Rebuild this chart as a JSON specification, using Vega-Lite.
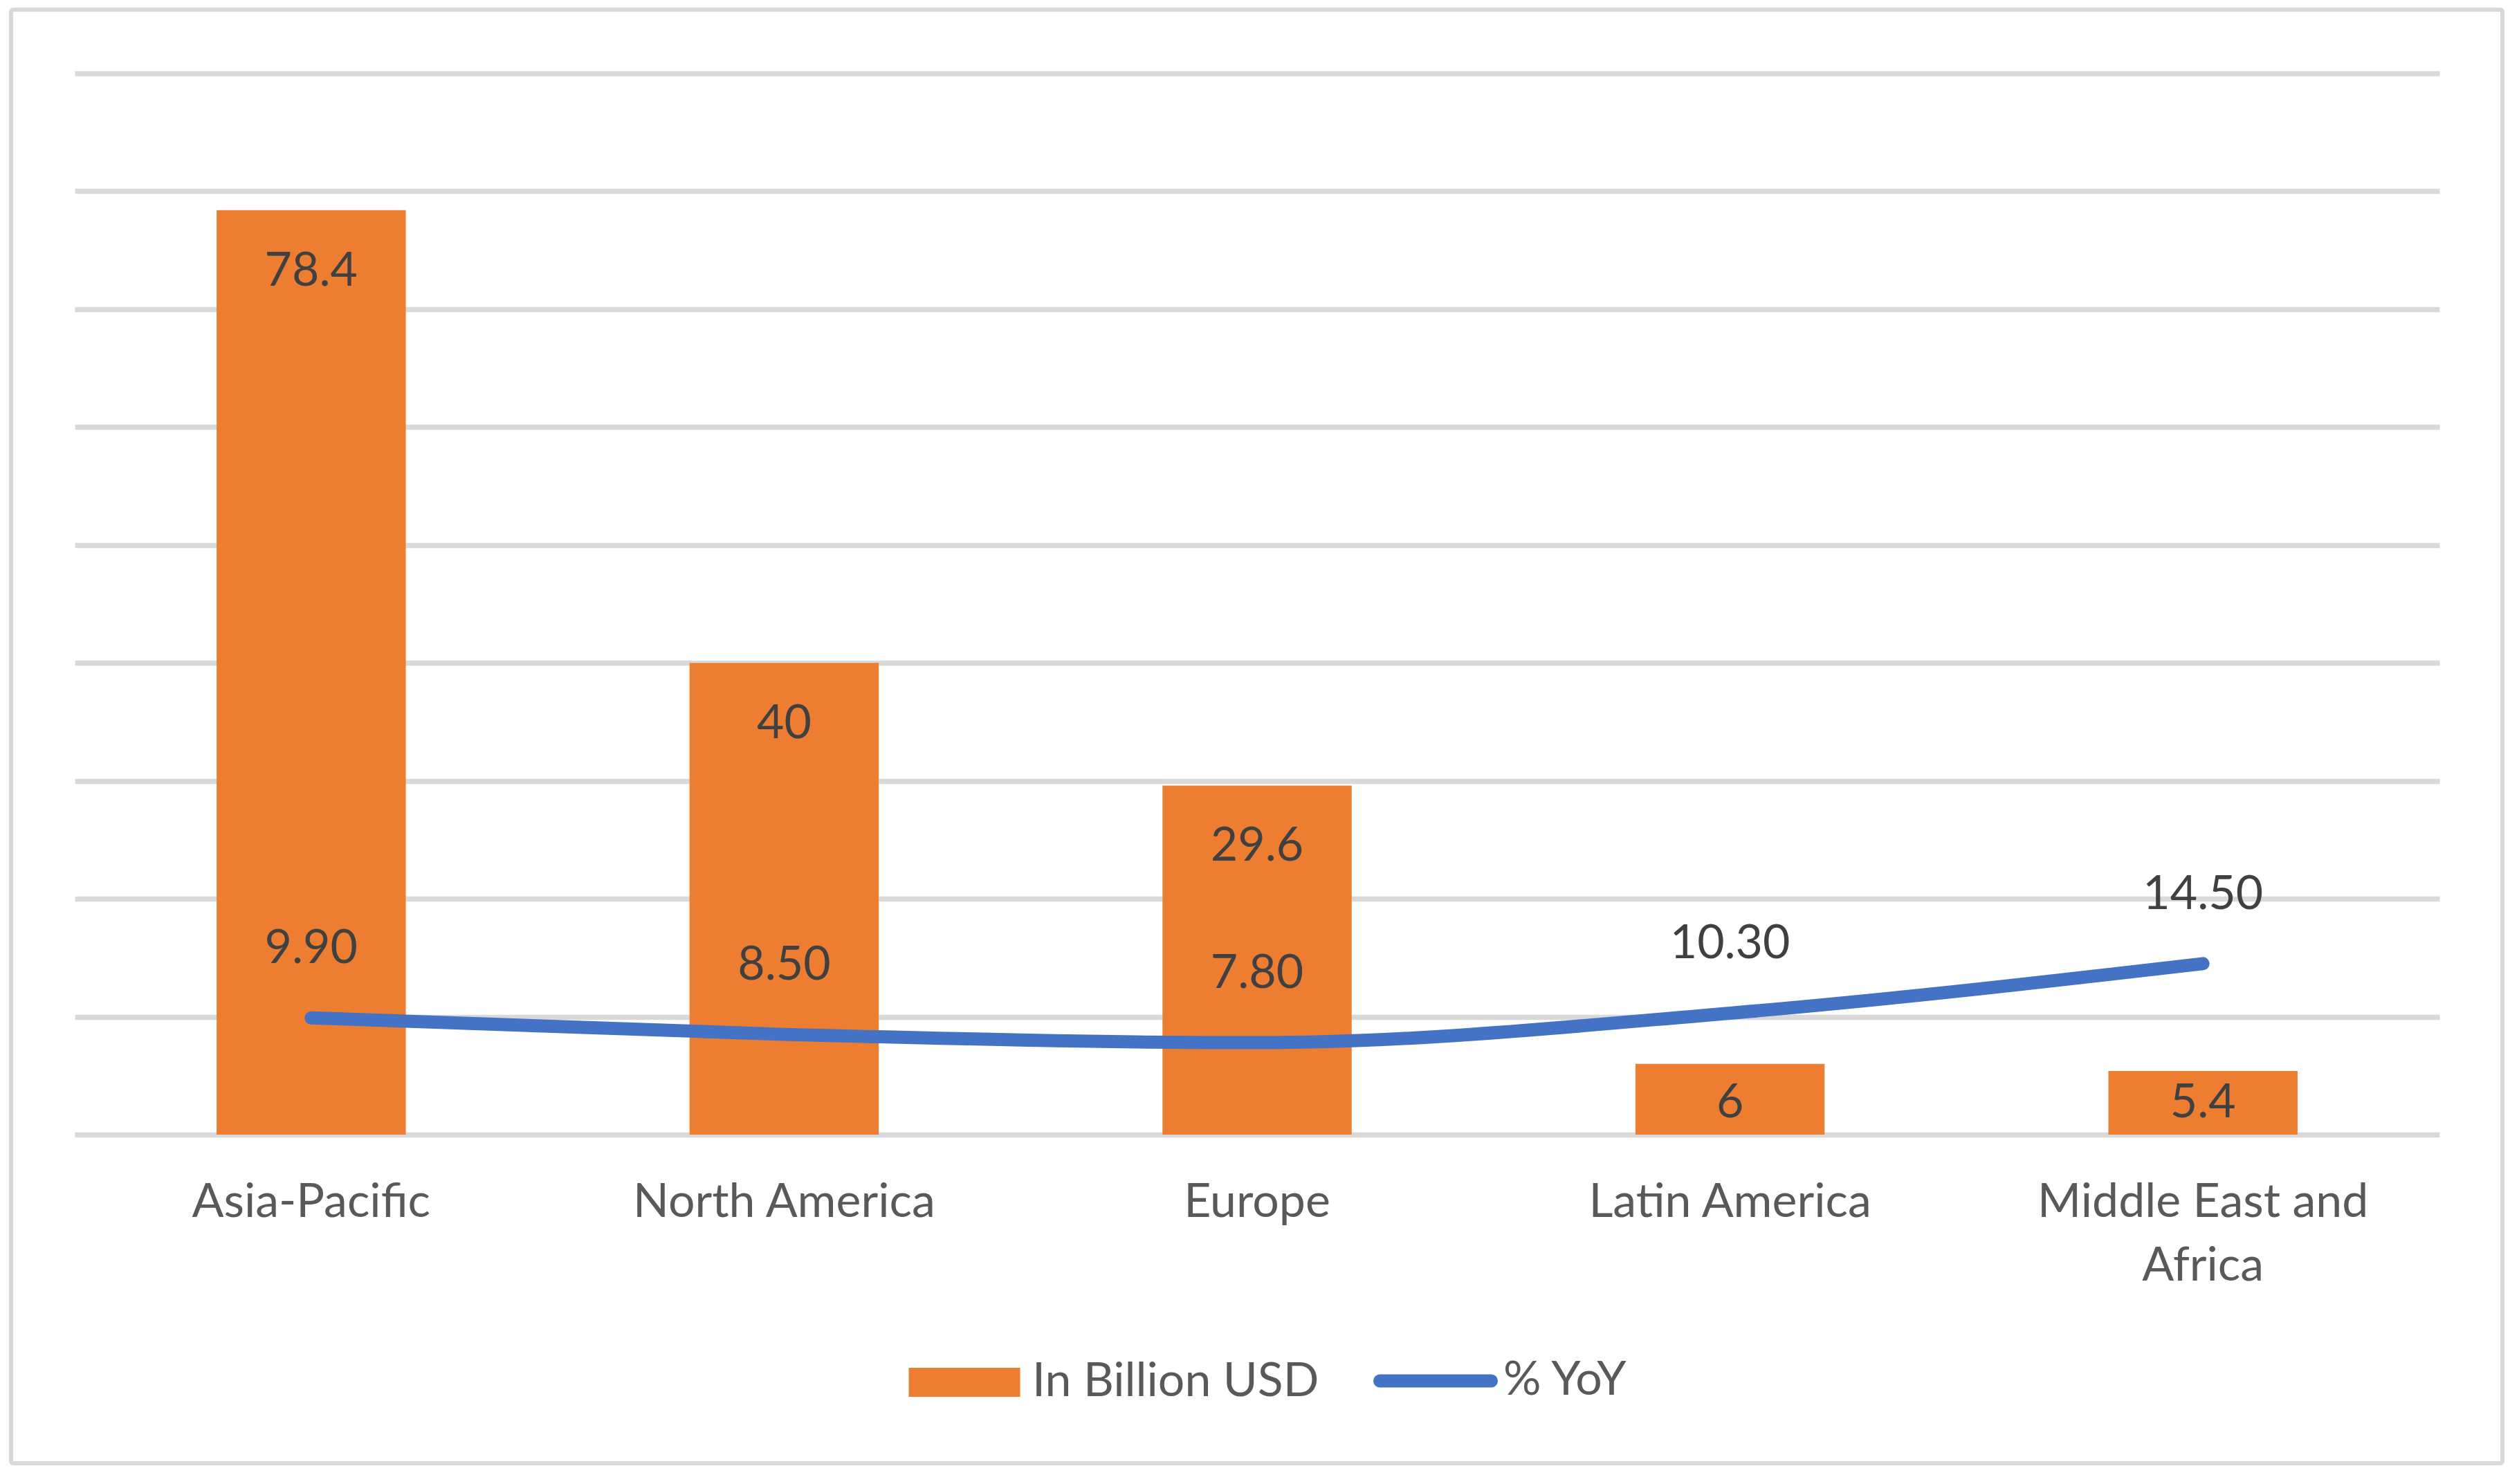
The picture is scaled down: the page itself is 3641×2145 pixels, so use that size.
{
  "$schema": "https://vega.github.io/schema/vega-lite/v6.json",
  "width": 3601,
  "height": 2101,
  "padding": {"left": 16, "top": 14, "right": 24, "bottom": 30},
  "autosize": {"type": "none"},
  "background": "white",
  "config": {
    "view": {"stroke": "#D9D9D9", "strokeWidth": 6, "cornerRadius": 3},
    "font": "Lato"
  },
  "data": {
    "values": [
      {"region": "Asia-Pacific", "usd": 78.4, "yoy": 9.9},
      {"region": "North America", "usd": 40, "yoy": 8.5},
      {"region": "Europe", "usd": 29.6, "yoy": 7.8},
      {"region": "Latin America", "usd": 6, "yoy": 10.3},
      {"region": "Middle East and Africa", "usd": 5.4, "yoy": 14.5}
    ]
  },
  "encoding": {
    "x": {
      "field": "region",
      "type": "nominal",
      "sort": null,
      "scale": {"range": [92, 3510], "paddingInner": 0.6, "paddingOuter": 0.3},
      "axis": {
        "title": null,
        "domain": false,
        "ticks": false,
        "tickSize": 0,
        "labelPadding": 118,
        "labelBaseline": "alphabetic",
        "labelFont": "Lato",
        "labelFontSize": 68,
        "labelColor": "#595959",
        "labelLimit": 0,
        "labelAngle": 0,
        "labelOverlap": false,
        "labelLineHeight": 92,
        "offset": -475,
        "grid": false,
        "labelExpr": "datum.value == 'Middle East and Africa' ? ['Middle East and', 'Africa'] : datum.value"
      }
    }
  },
  "layer": [
    {
      "mark": {"type": "bar", "fill": "#ED7D31"},
      "encoding": {
        "y": {
          "field": "usd",
          "type": "quantitative",
          "scale": {"domain": [0, 90], "range": [1626, 92], "nice": false, "zero": true},
          "axis": {
            "title": null,
            "labels": false,
            "ticks": false,
            "domain": false,
            "grid": true,
            "gridColor": "#D9D9D9",
            "gridWidth": 7.5,
            "values": [0, 10, 20, 30, 40, 50, 60, 70, 80, 90]
          }
        },
        "color": {
          "datum": "In Billion USD",
          "type": "nominal",
          "scale": {"domain": ["In Billion USD", "% YoY"], "range": ["#ED7D31", "#4472C4"]},
          "legend": {
            "orient": "none",
            "legendX": 1344,
            "legendY": 1948,
            "direction": "horizontal",
            "title": null,
            "padding": 0,
            "symbolSize": 25921,
            "labelFont": "Lato",
            "labelFontSize": 68,
            "labelColor": "#595959",
            "labelOffset": 64,
            "labelLimit": 0,
            "columnPadding": 49,
            "encode": {
              "symbols": {
                "update": {
                  "shape": {"signal": "datum.value === '% YoY' ? 'stroke' : 'M-1,-0.261H1V0.261H-1Z'"},
                  "fill": {"signal": "datum.value === '% YoY' ? 'transparent' : '#ED7D31'"},
                  "stroke": {"signal": "datum.value === '% YoY' ? '#4472C4' : 'transparent'"},
                  "strokeWidth": {"signal": "datum.value === '% YoY' ? 19 : 0"},
                  "strokeCap": {"value": "round"},
                  "opacity": {"value": 1}
                }
              }
            }
          }
        }
      }
    },
    {
      "mark": {"type": "line", "strokeWidth": 19, "strokeCap": "round", "strokeJoin": "round", "interpolate": "monotone"},
      "encoding": {
        "y": {"field": "yoy", "type": "quantitative"},
        "color": {"datum": "% YoY", "type": "nominal"}
      }
    },
    {
      "transform": [{"filter": "datum.usd >= 20"}],
      "mark": {"type": "text", "baseline": "alphabetic", "dy": 109, "fontSize": 68, "font": "Lato", "color": "#404040"},
      "encoding": {
        "y": {"field": "usd", "type": "quantitative"},
        "text": {"field": "usd", "type": "nominal"}
      }
    },
    {
      "transform": [{"filter": "datum.usd < 20"}],
      "mark": {"type": "text", "baseline": "alphabetic", "dy": -25, "fontSize": 68, "font": "Lato", "color": "#404040"},
      "encoding": {
        "y": {"datum": 0, "type": "quantitative"},
        "text": {"field": "usd", "type": "nominal"}
      }
    },
    {
      "mark": {"type": "text", "baseline": "alphabetic", "dy": -79, "fontSize": 68, "font": "Lato", "color": "#404040"},
      "encoding": {
        "y": {"field": "yoy", "type": "quantitative"},
        "text": {"field": "yoy", "type": "quantitative", "format": ".2f"}
      }
    }
  ]
}
